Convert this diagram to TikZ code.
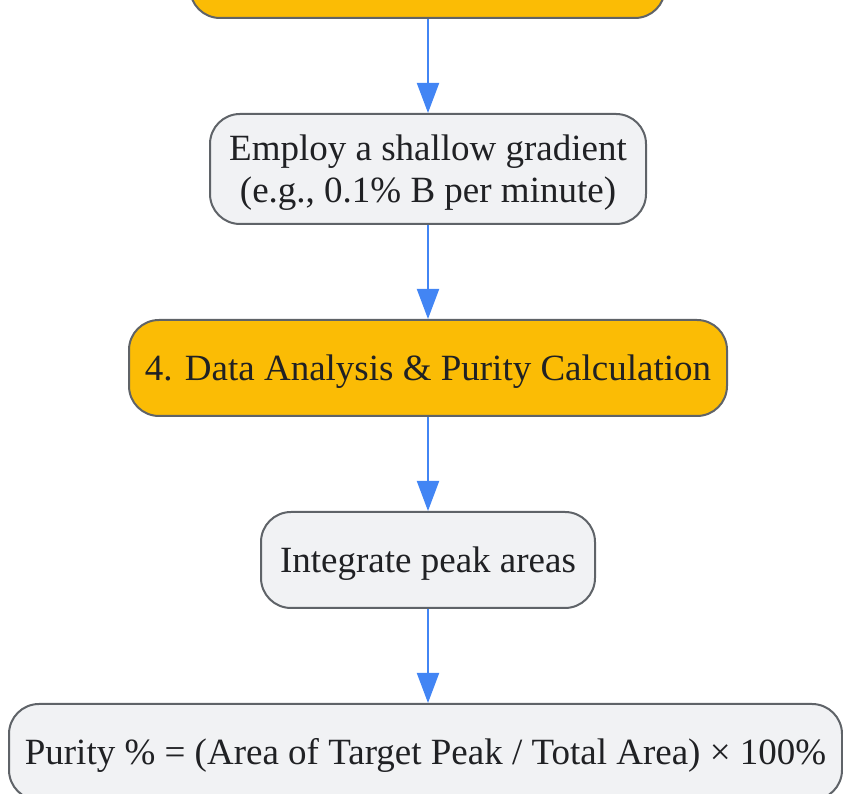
\documentclass[tikz,border=0pt]{standalone}
\usepackage{fontspec}
\setmainfont{Liberation Serif}
\usetikzlibrary{arrows.meta}
\definecolor{boxgray}{HTML}{F1F2F4}
\definecolor{edgegray}{HTML}{5F6368}
\definecolor{phase}{HTML}{FBBC05}
\definecolor{flow}{HTML}{4285F4}
\definecolor{ink}{HTML}{202124}
\newcommand\cssstrut{\rule[-0.216em]{0pt}{1.107em}}
\tikzset{
  x=1pt,y=1pt,
  box/.style={draw=edgegray, line width=2pt, rounded corners=30pt, align=center,
    inner sep=0pt, font=\fontsize{37}{42}\selectfont, text=ink},
  stepbox/.style={box, fill=boxgray},
  phasebox/.style={box, fill=phase},
  flowarrow/.style={draw=flow, line width=2pt, -{Triangle[length=30pt,width=22pt]}},
}
\begin{document}
\begin{tikzpicture}
\useasboundingbox (0,0) rectangle (843,794);
\clip (0,0) rectangle (843,794);
\node[phasebox, minimum width=475pt, minimum height=96pt] (top) at (427.5,824) {};
\node[stepbox, minimum width=436pt, minimum height=110pt] (grad) at (428,625) {\cssstrut Employ a shallow gradient\\\cssstrut(e.g., 0.1\% B per minute)};
\node[phasebox, minimum width=598pt, minimum height=96pt] (analysis) at (428,426) {\cssstrut 4. Data Analysis \& Purity Calculation};
\node[stepbox, minimum width=334pt, minimum height=96pt] (integ) at (428,234) {\cssstrut Integrate peak areas};
\node[stepbox, minimum width=833pt, minimum height=96pt] (purity) at (425.5,42) {\cssstrut Purity \% = (Area of Target Peak / Total Area) × 100\%};
\draw[flowarrow] (top.south -| grad.north) -- (grad.north);
\draw[flowarrow] (grad) -- (analysis);
\draw[flowarrow] (analysis) -- (integ);
\draw[flowarrow] (integ.south) -- (integ.south |- purity.north);
\end{tikzpicture}
\end{document}
